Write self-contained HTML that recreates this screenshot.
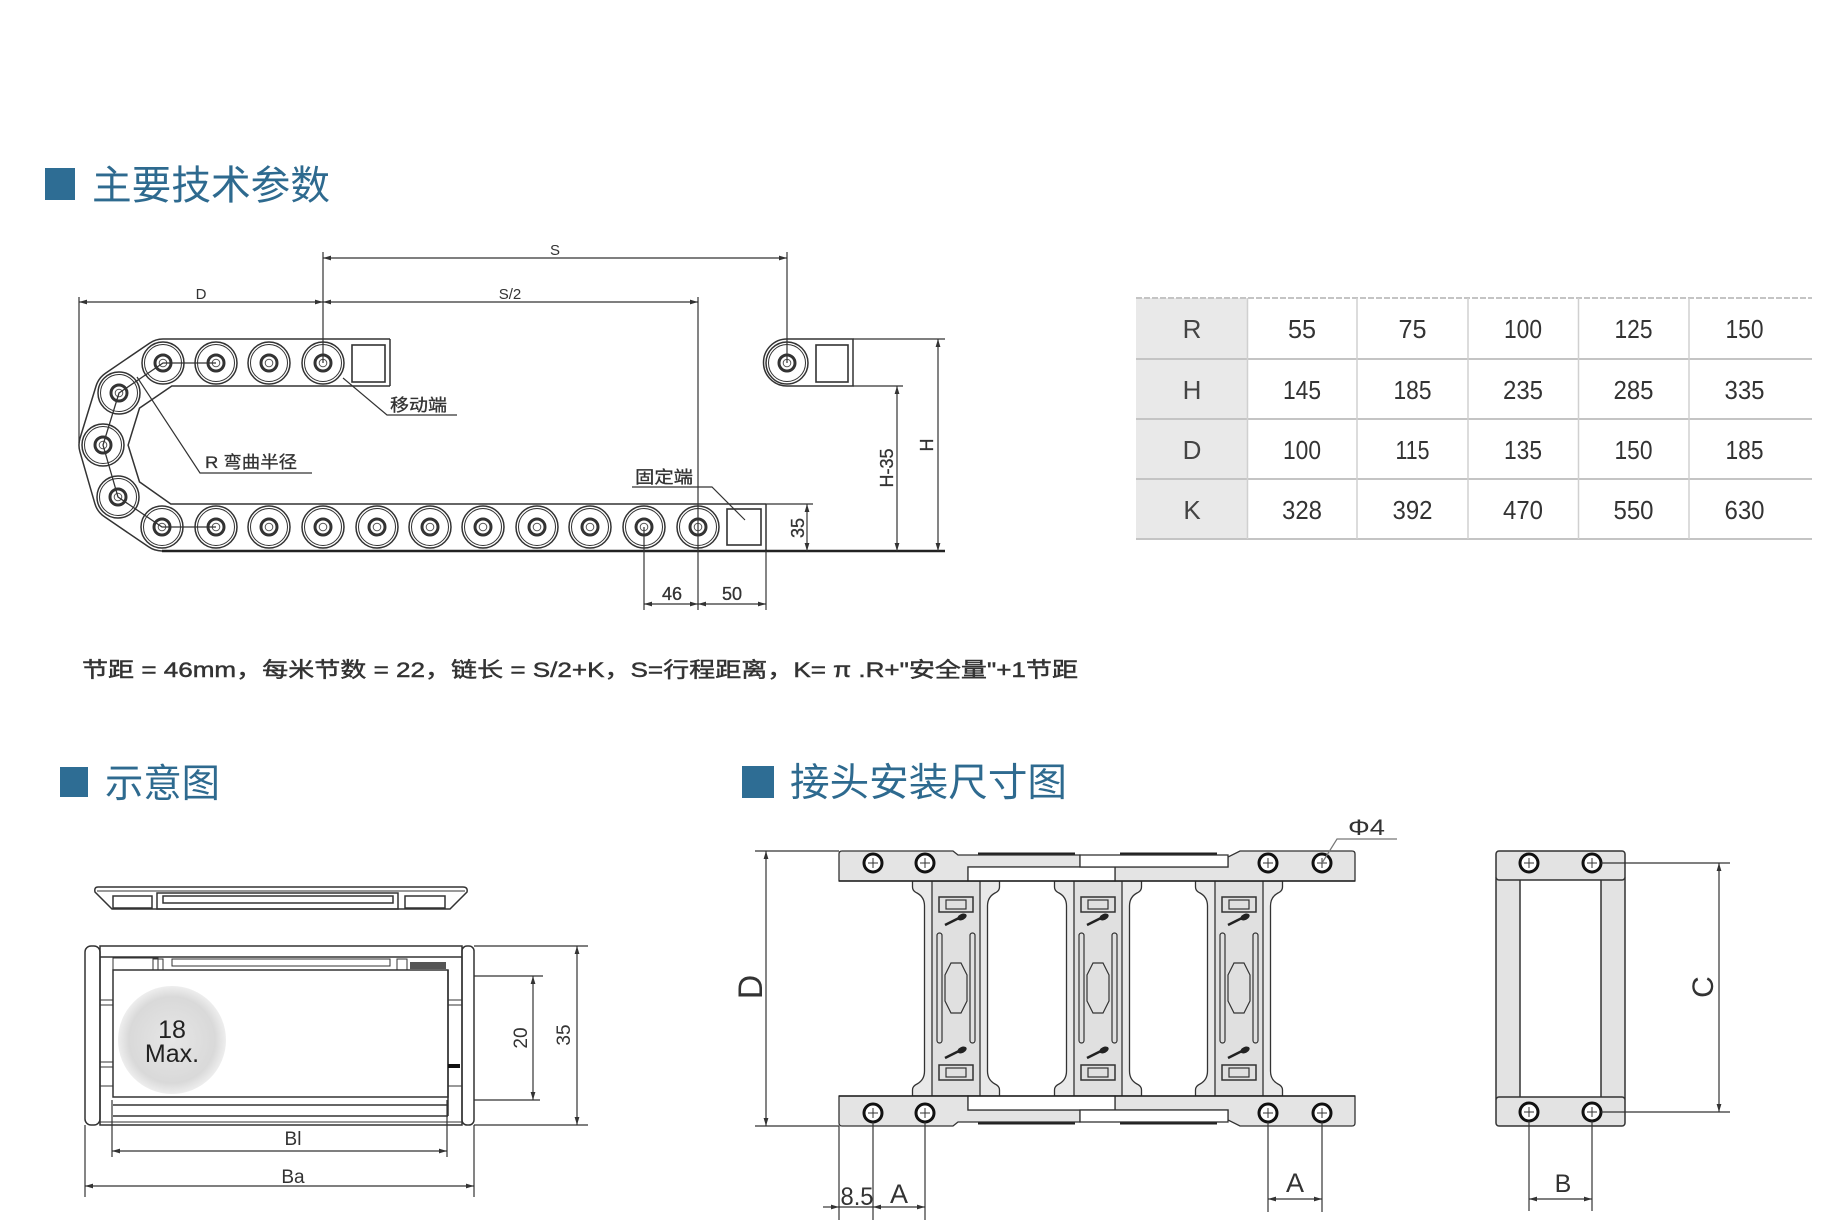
<!DOCTYPE html>
<html><head><meta charset="utf-8">
<style>
html,body{margin:0;padding:0;background:#fff;}
svg{display:block;}
text{font-family:"Liberation Sans","Noto Sans CJK SC",sans-serif;}
</style></head>
<body>
<svg width="1823" height="1220" viewBox="0 0 1823 1220" xmlns="http://www.w3.org/2000/svg">
<defs>
<marker id="ar" viewBox="0 0 10 6" refX="10" refY="3" markerWidth="8" markerHeight="4.8" orient="auto-start-reverse" markerUnits="userSpaceOnUse"><path d="M0 0 L10 3 L0 6 z" fill="#333"/></marker>
<radialGradient id="ball" cx="50%" cy="50%" r="50%"><stop offset="0" stop-color="#e6e6e6"/><stop offset="0.8" stop-color="#d9d9d9"/><stop offset="1" stop-color="#eeeeee"/></radialGradient>
<g id="pv"><circle r="21" fill="#fff" stroke="#333" stroke-width="1.5"/><circle r="18.5" fill="none" stroke="#333" stroke-width="1"/><circle r="8" fill="none" stroke="#333" stroke-width="3"/><circle r="3.8" fill="#fff" stroke="#555" stroke-width="1"/></g>
<g id="ho"><circle r="9" fill="#fff" stroke="#111" stroke-width="3"/><line x1="-5" y1="0" x2="5" y2="0" stroke="#333" stroke-width="1"/><line x1="0" y1="-5" x2="0" y2="5" stroke="#333" stroke-width="1"/></g>
<g id="cm">
<path d="M-43.5 881 L43.5 881 L43.5 887 Q43.5 891 39 893 Q31.5 897 31.5 906 L31.5 1071 Q31.5 1080 39 1084 Q43.5 1086 43.5 1090 L43.5 1096 L-43.5 1096 L-43.5 1090 Q-43.5 1086 -39 1084 Q-31.5 1080 -31.5 1071 L-31.5 906 Q-31.5 897 -39 893 Q-43.5 891 -43.5 887 Z" fill="#e9e9e9" stroke="#333" stroke-width="1.3"/>
<rect x="-24" y="881" width="48" height="215" fill="#e0e0e0" stroke="#333" stroke-width="1.3"/>
<rect x="-17" y="897" width="34" height="15" fill="none" stroke="#333" stroke-width="1.5"/>
<rect x="-10" y="900" width="20" height="9" fill="none" stroke="#333" stroke-width="1.2"/>
<path d="M-11 925 L3 918" stroke="#222" stroke-width="2.5"/>
<ellipse cx="6" cy="917" rx="5" ry="3" transform="rotate(-25 6 917)" fill="#222"/>
<rect x="-19" y="933" width="5" height="110" rx="2.5" fill="none" stroke="#333" stroke-width="1.2"/>
<rect x="14" y="933" width="5" height="110" rx="2.5" fill="none" stroke="#333" stroke-width="1.2"/>
<polygon points="-5,963 5,963 11,975 11,1001 5,1013 -5,1013 -11,1001 -11,975" fill="none" stroke="#333" stroke-width="1.2"/>
<path d="M-11 1058 L3 1051" stroke="#222" stroke-width="2.5"/>
<ellipse cx="6" cy="1050" rx="5" ry="3" transform="rotate(-25 6 1050)" fill="#222"/>
<rect x="-17" y="1065" width="34" height="15" fill="none" stroke="#333" stroke-width="1.5"/>
<rect x="-10" y="1068" width="20" height="9" fill="none" stroke="#333" stroke-width="1.2"/>
</g>
</defs>
<rect width="1823" height="1220" fill="#fff"/>

<!-- Titles -->
<rect x="45" y="168" width="30" height="32" fill="#2e6d94"/>
<text x="92" y="199" font-size="40" fill="#2e6a8f" textLength="238" lengthAdjust="spacingAndGlyphs">主要技术参数</text>
<rect x="60" y="767" width="28" height="30" fill="#2e6d94"/>
<text x="105" y="797" font-size="39" fill="#2e6a8f" textLength="115" lengthAdjust="spacingAndGlyphs">示意图</text>
<rect x="742" y="766" width="32" height="32" fill="#2e6d94"/>
<text x="790" y="796" font-size="39" fill="#2e6a8f" textLength="277" lengthAdjust="spacingAndGlyphs">接头安装尺寸图</text>

<!-- Formula -->
<text x="82" y="677" font-size="21" fill="#333" stroke="#333" stroke-width="0.45" textLength="996" lengthAdjust="spacingAndGlyphs">节距 = 46mm，每米节数 = 22，链长 = S/2+K，S=行程距离，K= π .R+"安全量"+1节距</text>

<!-- Chain diagram -->
<g fill="none" stroke="#333" stroke-width="1.5">
<path d="M390 339 L163 339 A24 24 0 0 0 149.5 343.2 L105.5 373.2 A24 24 0 0 0 96.1 385.9 L80.1 437.9 A24 24 0 0 0 79.9 451.7 L94.9 503.7 A24 24 0 0 0 104.5 516.8 L148.5 546.8 A24 24 0 0 0 162 551"/>
<path d="M390 386 L171.8 386 L139.5 408.1 L128.1 445.1 L139.5 481.9 L170.8 504 L766 504"/>
<line x1="390" y1="339" x2="390" y2="386"/>
<line x1="766" y1="504" x2="766" y2="551"/>
<path d="M853 339 L787 339 A23.5 23.5 0 0 0 787 386 L853 386 Z"/>
</g>
<line x1="162" y1="551" x2="945" y2="551" stroke="#222" stroke-width="2.5"/>
<g>
<use href="#pv" x="163" y="363"/><use href="#pv" x="216" y="363"/><use href="#pv" x="269" y="363"/><use href="#pv" x="323" y="363"/>
<use href="#pv" x="119" y="393"/><use href="#pv" x="103" y="445"/><use href="#pv" x="118" y="497"/>
<use href="#pv" x="162" y="527"/><use href="#pv" x="216" y="527"/><use href="#pv" x="269" y="527"/><use href="#pv" x="323" y="527"/><use href="#pv" x="377" y="527"/><use href="#pv" x="430" y="527"/><use href="#pv" x="483" y="527"/><use href="#pv" x="537" y="527"/><use href="#pv" x="590" y="527"/><use href="#pv" x="644" y="527"/><use href="#pv" x="698" y="527"/>
<use href="#pv" x="787" y="363"/>
</g>
<polyline points="216,363 163,363 119,393 103,445 118,497 162,527 216,527" fill="none" stroke="#333" stroke-width="1.3"/>
<g fill="none" stroke="#333" stroke-width="1.6">
<rect x="352" y="345" width="33" height="37"/>
<rect x="727" y="509" width="34" height="36"/>
<rect x="816" y="345" width="32" height="37"/>
</g>
<!-- dims -->
<g stroke="#333" stroke-width="1.2" fill="none">
<line x1="323" y1="252" x2="323" y2="363"/>
<line x1="787" y1="252" x2="787" y2="363"/>
<line x1="79" y1="297" x2="79" y2="443"/>
<line x1="698" y1="297" x2="698" y2="610"/>
<line x1="644" y1="527" x2="644" y2="610"/>
<line x1="766" y1="551" x2="766" y2="610"/>
<line x1="766" y1="504" x2="813" y2="504"/>
<line x1="853" y1="386" x2="903" y2="386"/>
<line x1="853" y1="339" x2="945" y2="339"/>
<line x1="323" y1="258" x2="787" y2="258" marker-start="url(#ar)" marker-end="url(#ar)"/>
<line x1="79" y1="302" x2="323" y2="302" marker-start="url(#ar)" marker-end="url(#ar)"/>
<line x1="323" y1="302" x2="698" y2="302" marker-start="url(#ar)" marker-end="url(#ar)"/>
<line x1="644" y1="604" x2="698" y2="604" marker-start="url(#ar)" marker-end="url(#ar)"/>
<line x1="698" y1="604" x2="766" y2="604" marker-start="url(#ar)" marker-end="url(#ar)"/>
<line x1="807" y1="504" x2="807" y2="551" marker-start="url(#ar)" marker-end="url(#ar)"/>
<line x1="897" y1="386" x2="897" y2="551" marker-start="url(#ar)" marker-end="url(#ar)"/>
<line x1="938" y1="339" x2="938" y2="551" marker-start="url(#ar)" marker-end="url(#ar)"/>
<polyline points="343,378 387,415 457,415"/>
<polyline points="137,377 200,473 312,473"/>
<polyline points="632,487 712,487 745,520"/>
</g>
<g fill="#333" font-size="15">
<text x="555" y="255" text-anchor="middle">S</text>
<text x="201" y="299" text-anchor="middle">D</text>
<text x="510" y="299" text-anchor="middle">S/2</text>
</g>
<g fill="#333" font-size="17" stroke="#333" stroke-width="0.3">
<text x="390" y="411" textLength="57" lengthAdjust="spacingAndGlyphs">移动端</text>
<text x="205" y="468" textLength="92" lengthAdjust="spacingAndGlyphs">R 弯曲半径</text>
<text x="635" y="483" textLength="58" lengthAdjust="spacingAndGlyphs">固定端</text>
<text x="672" y="600" text-anchor="middle" font-size="18">46</text>
<text x="732" y="600" text-anchor="middle" font-size="18">50</text>
<text transform="translate(804 528) rotate(-90)" text-anchor="middle" font-size="18">35</text>
<text transform="translate(893 468) rotate(-90)" text-anchor="middle" font-size="18">H-35</text>
<text transform="translate(933 445) rotate(-90)" text-anchor="middle" font-size="18">H</text>
</g>

<!-- Table -->
<rect x="1136" y="298" width="111.5" height="241" fill="#e9e9e9"/>
<g stroke="#c4c4c4" stroke-width="2">
<line x1="1136" y1="298" x2="1812" y2="298" stroke-dasharray="6 2"/>
<line x1="1136" y1="359" x2="1812" y2="359"/>
<line x1="1136" y1="419" x2="1812" y2="419"/>
<line x1="1136" y1="479" x2="1812" y2="479"/>
<line x1="1136" y1="539" x2="1812" y2="539"/>
</g>
<g stroke="#d0d0d0" stroke-width="1.5">
<line x1="1247.5" y1="298" x2="1247.5" y2="539"/>
<line x1="1357" y1="298" x2="1357" y2="539"/>
<line x1="1468" y1="298" x2="1468" y2="539"/>
<line x1="1578.5" y1="298" x2="1578.5" y2="539"/>
<line x1="1689" y1="298" x2="1689" y2="539"/>
</g>
<g font-size="26" fill="#444" text-anchor="middle">
<text x="1192" y="338">R</text><text x="1192" y="399">H</text><text x="1192" y="459">D</text><text x="1192" y="519">K</text>
</g>
<g font-size="26" fill="#333" text-anchor="middle">
<text x="1302" y="338" textLength="28" lengthAdjust="spacingAndGlyphs">55</text>
<text x="1412.5" y="338" textLength="28" lengthAdjust="spacingAndGlyphs">75</text>
<text x="1523" y="338" textLength="38" lengthAdjust="spacingAndGlyphs">100</text>
<text x="1633.5" y="338" textLength="38" lengthAdjust="spacingAndGlyphs">125</text>
<text x="1744.5" y="338" textLength="38" lengthAdjust="spacingAndGlyphs">150</text>
<text x="1302" y="399" textLength="38" lengthAdjust="spacingAndGlyphs">145</text>
<text x="1412.5" y="399" textLength="38" lengthAdjust="spacingAndGlyphs">185</text>
<text x="1523" y="399" textLength="40" lengthAdjust="spacingAndGlyphs">235</text>
<text x="1633.5" y="399" textLength="40" lengthAdjust="spacingAndGlyphs">285</text>
<text x="1744.5" y="399" textLength="40" lengthAdjust="spacingAndGlyphs">335</text>
<text x="1302" y="459" textLength="38" lengthAdjust="spacingAndGlyphs">100</text>
<text x="1412.5" y="459" textLength="34" lengthAdjust="spacingAndGlyphs">115</text>
<text x="1523" y="459" textLength="38" lengthAdjust="spacingAndGlyphs">135</text>
<text x="1633.5" y="459" textLength="38" lengthAdjust="spacingAndGlyphs">150</text>
<text x="1744.5" y="459" textLength="38" lengthAdjust="spacingAndGlyphs">185</text>
<text x="1302" y="519" textLength="40" lengthAdjust="spacingAndGlyphs">328</text>
<text x="1412.5" y="519" textLength="40" lengthAdjust="spacingAndGlyphs">392</text>
<text x="1523" y="519" textLength="40" lengthAdjust="spacingAndGlyphs">470</text>
<text x="1633.5" y="519" textLength="40" lengthAdjust="spacingAndGlyphs">550</text>
<text x="1744.5" y="519" textLength="40" lengthAdjust="spacingAndGlyphs">630</text>
</g>

<!-- Bottom-left cross-section -->
<g fill="none" stroke="#333" stroke-width="1.5">
<path d="M98 887 L463 887 Q468 887 467 892 L450 909 L112 909 L95 892 Q94 887 98 887 Z" fill="#fff"/>
<line x1="97" y1="891" x2="465" y2="891" stroke-width="1"/>
<rect x="113" y="896" width="39" height="12"/>
<rect x="157" y="893" width="241" height="16"/>
<rect x="163" y="896" width="230" height="7"/>
<rect x="405" y="896" width="40" height="12"/>
<rect x="85" y="946" width="15" height="179" rx="6"/>
<rect x="462" y="946" width="12" height="179" rx="5"/>
<rect x="100" y="946" width="362" height="179"/>
<line x1="100" y1="957" x2="462" y2="957"/>
<rect x="113" y="970" width="335" height="127"/>
<rect x="113" y="958" width="45" height="12" stroke-width="1"/>
<rect x="153" y="959" width="10" height="11" stroke-width="1"/>
<rect x="172" y="959" width="218" height="7" stroke-width="1"/>
<rect x="397" y="959" width="10" height="11" stroke-width="1"/>
<line x1="100" y1="1000" x2="113" y2="1000" stroke-width="1"/>
<line x1="100" y1="1005" x2="113" y2="1005" stroke-width="1"/>
<line x1="100" y1="1062" x2="113" y2="1062" stroke-width="1"/>
<line x1="100" y1="1067" x2="113" y2="1067" stroke-width="1"/>
<line x1="100" y1="1086" x2="113" y2="1086" stroke-width="1"/>
<line x1="448" y1="1000" x2="462" y2="1000" stroke-width="1"/>
<line x1="448" y1="1005" x2="462" y2="1005" stroke-width="1"/>
<line x1="448" y1="1086" x2="462" y2="1086" stroke-width="1"/>
<line x1="113" y1="1105" x2="448" y2="1105"/>
<line x1="113" y1="1116" x2="448" y2="1116"/>
<line x1="100" y1="1122" x2="462" y2="1122" stroke-width="1"/>
<line x1="448" y1="970" x2="448" y2="1116"/>
</g>
<rect x="410" y="962" width="36" height="7" fill="#555"/>
<rect x="448" y="1064" width="12" height="4" fill="#111"/>
<circle cx="172" cy="1040" r="54" fill="url(#ball)"/>
<g font-size="25" fill="#222" text-anchor="middle">
<text x="172" y="1038">18</text>
<text x="172" y="1062">Max.</text>
</g>
<g stroke="#333" stroke-width="1.2" fill="none">
<line x1="474" y1="976" x2="543" y2="976"/>
<line x1="474" y1="1100" x2="540" y2="1100"/>
<line x1="533" y1="976" x2="533" y2="1100" marker-start="url(#ar)" marker-end="url(#ar)"/>
<line x1="474" y1="946" x2="588" y2="946"/>
<line x1="474" y1="1125" x2="588" y2="1125"/>
<line x1="577" y1="946" x2="577" y2="1125" marker-start="url(#ar)" marker-end="url(#ar)"/>
<line x1="112" y1="1100" x2="112" y2="1157"/>
<line x1="447" y1="1100" x2="447" y2="1157"/>
<line x1="112" y1="1151" x2="447" y2="1151" marker-start="url(#ar)" marker-end="url(#ar)"/>
<line x1="85" y1="1125" x2="85" y2="1197"/>
<line x1="474" y1="1125" x2="474" y2="1197"/>
<line x1="85" y1="1186" x2="474" y2="1186" marker-start="url(#ar)" marker-end="url(#ar)"/>
</g>
<g font-size="19" fill="#333" text-anchor="middle">
<text transform="translate(527 1038) rotate(-90)">20</text>
<text transform="translate(570 1035) rotate(-90)">35</text>
<text x="293" y="1145">Bl</text>
<text x="293" y="1183">Ba</text>
</g>

<!-- Joint installation diagram -->
<use href="#cm" x="956" y="0"/>
<use href="#cm" x="1098" y="0"/>
<use href="#cm" x="1239" y="0"/>
<g stroke="#333" stroke-width="1.3">
<path d="M842 851 L953 851 L958 855 L1080 855 L1080 867 L968 867 L968 881 L839 881 L839 854 Q839 851 842 851 Z" fill="#e4e4e4"/>
<path d="M1352 851 L1240 851 L1228 857 L1228 867 L1115 867 L1115 881 L1355 881 L1355 854 Q1355 851 1352 851 Z" fill="#e4e4e4"/>
<rect x="968" y="867" width="147" height="14" fill="#fff"/>
<rect x="1080" y="855" width="148" height="12" fill="#fff"/>
<path d="M842 1126 L953 1126 L958 1122 L1080 1122 L1080 1110 L968 1110 L968 1096 L839 1096 L839 1123 Q839 1126 842 1126 Z" fill="#e4e4e4"/>
<path d="M1352 1126 L1240 1126 L1228 1120 L1228 1110 L1115 1110 L1115 1096 L1355 1096 L1355 1123 Q1355 1126 1352 1126 Z" fill="#e4e4e4"/>
<rect x="968" y="1096" width="147" height="14" fill="#fff"/>
<rect x="1080" y="1110" width="148" height="12" fill="#fff"/>
</g>
<g stroke="#222" stroke-width="2">
<line x1="978" y1="853.5" x2="1075" y2="853.5"/>
<line x1="1120" y1="853.5" x2="1217" y2="853.5"/>
<line x1="978" y1="1123.5" x2="1075" y2="1123.5"/>
<line x1="1120" y1="1123.5" x2="1217" y2="1123.5"/>
<line x1="839" y1="881" x2="1355" y2="881" stroke-width="1.5"/>
<line x1="839" y1="1096" x2="1355" y2="1096" stroke-width="1.5"/>
</g>
<use href="#ho" x="873" y="863"/><use href="#ho" x="925" y="863"/><use href="#ho" x="1268" y="863"/><use href="#ho" x="1322" y="863"/>
<use href="#ho" x="873" y="1113"/><use href="#ho" x="925" y="1113"/><use href="#ho" x="1268" y="1113"/><use href="#ho" x="1322" y="1113"/>
<g stroke="#333" stroke-width="1.2" fill="none">
<line x1="755" y1="851" x2="839" y2="851"/>
<line x1="755" y1="1126" x2="839" y2="1126"/>
<line x1="766" y1="851" x2="766" y2="1126" marker-start="url(#ar)" marker-end="url(#ar)"/>
<line x1="839" y1="1126" x2="839" y2="1220"/>
<line x1="873" y1="1122" x2="873" y2="1220"/>
<line x1="925" y1="1122" x2="925" y2="1220"/>
<line x1="823" y1="1207" x2="839" y2="1207" marker-end="url(#ar)"/>
<line x1="839" y1="1207" x2="873" y2="1207"/>
<line x1="873" y1="1207" x2="925" y2="1207" marker-start="url(#ar)" marker-end="url(#ar)"/>
<line x1="1268" y1="1122" x2="1268" y2="1212"/>
<line x1="1322" y1="1122" x2="1322" y2="1212"/>
<line x1="1268" y1="1199" x2="1322" y2="1199" marker-start="url(#ar)" marker-end="url(#ar)"/>
<polyline points="1322,863 1337,839 1397,839" stroke="#777"/>
</g>
<g fill="#333">
<text transform="translate(762 987) rotate(-90)" text-anchor="middle" font-size="34">D</text>
<text x="857" y="1205" text-anchor="middle" font-size="25" textLength="33" lengthAdjust="spacingAndGlyphs">8.5</text>
<text x="899" y="1203" text-anchor="middle" font-size="27">A</text>
<text x="1295" y="1192" text-anchor="middle" font-size="27">A</text>
<text x="1348" y="835" font-size="22" textLength="37" lengthAdjust="spacingAndGlyphs">Φ4</text>
</g>

<!-- Right small diagram -->
<g stroke="#333" stroke-width="1.5" fill="#e3e3e3">
<rect x="1496" y="878" width="24" height="221"/>
<rect x="1601" y="878" width="24" height="221"/>
<rect x="1496" y="851" width="129" height="29" rx="3"/>
<rect x="1496" y="1097" width="129" height="29" rx="3"/>
</g>
<use href="#ho" x="1529" y="863"/><use href="#ho" x="1592" y="863"/>
<use href="#ho" x="1529" y="1112"/><use href="#ho" x="1592" y="1112"/>
<g stroke="#333" stroke-width="1.2" fill="none">
<line x1="1601" y1="863" x2="1730" y2="863"/>
<line x1="1601" y1="1112" x2="1730" y2="1112"/>
<line x1="1719" y1="863" x2="1719" y2="1112" marker-start="url(#ar)" marker-end="url(#ar)"/>
<line x1="1529" y1="1121" x2="1529" y2="1211"/>
<line x1="1592" y1="1121" x2="1592" y2="1211"/>
<line x1="1529" y1="1199" x2="1592" y2="1199" marker-start="url(#ar)" marker-end="url(#ar)"/>
</g>
<g fill="#333">
<text transform="translate(1713 987) rotate(-90)" text-anchor="middle" font-size="30">C</text>
<text x="1563" y="1192" text-anchor="middle" font-size="25">B</text>
</g>
</svg>
</body></html>
